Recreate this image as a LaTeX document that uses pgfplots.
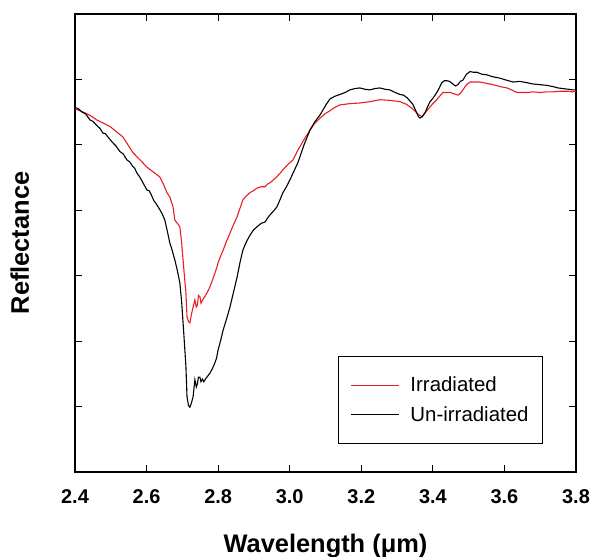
\documentclass[border=0pt]{standalone}
\usepackage{fontspec}
\setmainfont{Liberation Sans}
\usepackage{pgfplots}
\pgfplotsset{compat=1.18}
\definecolor{irrred}{RGB}{232,30,36}
\begin{document}
\begin{tikzpicture}
\begin{axis}[
    name=ax,
    scale only axis,
    width=501bp, height=458bp,
    line width=2bp,
    xmin=2.4, xmax=3.8, ymin=0, ymax=7,
    xtick={2.4,2.6,...,3.8},
    ytick={1,2,3,4,5,6},
    yticklabels={},
    tick align=inside,
    major tick length=7bp,
    tick style={line width=1bp, black},
    xticklabel style={font=\fontsize{20}{24}\selectfont\bfseries, yshift=-13bp},
    /pgf/number format/assume math mode=true,
    /pgf/number format/fixed, /pgf/number format/fixed zerofill, /pgf/number format/precision=1,
    xlabel={Wavelength (μm)},
    ylabel={Reflectance},
    xlabel style={font=\fontsize{25.5}{29}\selectfont\bfseries, yshift=-23bp},
    ylabel style={font=\fontsize{25.5}{29}\selectfont\bfseries, yshift=34bp},
    legend style={at={(0.934,0.061)}, anchor=south east, draw=black, line width=0.8bp,
        font=\fontsize{20.5}{24}\selectfont, inner xsep=12bp, inner ysep=19bp, row sep=9bp,
        column sep=9bp},
    legend cell align=left,
    legend image code/.code={\draw[#1, line width=1bp] (0bp,0bp) -- (48bp,0bp);},
]
\addplot[irrred, line width=1.1bp] coordinates {
(2.400,5.55) (2.414,5.52) (2.428,5.49) (2.445,5.44) (2.461,5.38) (2.480,5.33)
(2.498,5.28) (2.516,5.20) (2.534,5.12) (2.548,5.00) (2.562,4.88) (2.580,4.78)
(2.601,4.66) (2.620,4.58) (2.637,4.51) (2.647,4.40) (2.657,4.27) (2.665,4.20)
(2.670,4.12) (2.674,4.05) (2.679,3.85) (2.686,3.80) (2.693,3.75) (2.698,3.50)
(2.702,3.24) (2.706,2.98) (2.710,2.74) (2.713,2.37) (2.717,2.30) (2.721,2.28)
(2.725,2.40) (2.730,2.52) (2.735,2.63) (2.739,2.52) (2.742,2.55) (2.745,2.70)
(2.749,2.68) (2.752,2.58) (2.756,2.62) (2.760,2.66) (2.763,2.68) (2.770,2.75)
(2.777,2.83) (2.784,2.93) (2.791,3.04) (2.796,3.12) (2.800,3.20) (2.807,3.30)
(2.814,3.39) (2.823,3.52) (2.833,3.65) (2.843,3.78) (2.853,3.90) (2.861,4.03)
(2.869,4.16) (2.879,4.22) (2.889,4.27) (2.899,4.30) (2.909,4.34) (2.920,4.36)
(2.931,4.36) (2.938,4.40) (2.945,4.42) (2.955,4.47) (2.964,4.51) (2.972,4.56)
(2.981,4.62) (2.995,4.70) (3.009,4.77) (3.023,4.92) (3.040,5.08) (3.057,5.23)
(3.070,5.33) (3.085,5.41) (3.100,5.48) (3.112,5.52) (3.125,5.57) (3.140,5.61)
(3.168,5.63) (3.196,5.64) (3.224,5.66) (3.252,5.69) (3.280,5.68) (3.308,5.66)
(3.326,5.62) (3.344,5.55) (3.358,5.47) (3.370,5.43) (3.380,5.50) (3.392,5.58)
(3.400,5.63) (3.411,5.69) (3.420,5.75) (3.428,5.80) (3.438,5.80) (3.448,5.80)
(3.460,5.78) (3.470,5.76) (3.477,5.79) (3.484,5.84) (3.494,5.92) (3.504,5.96)
(3.518,5.96) (3.532,5.96) (3.550,5.94) (3.568,5.92) (3.588,5.89) (3.607,5.87)
(3.620,5.84) (3.635,5.80) (3.650,5.80) (3.663,5.80) (3.680,5.81) (3.699,5.80)
(3.717,5.81) (3.736,5.81) (3.755,5.82) (3.775,5.82) (3.790,5.81) (3.800,5.82)
};
\addlegendentry{Irradiated}
\addplot[black, line width=1.1bp] coordinates {
(2.400,5.57) (2.410,5.55) (2.420,5.50) (2.430,5.47) (2.442,5.38) (2.450,5.36)
(2.460,5.30) (2.470,5.25) (2.478,5.18) (2.485,5.17) (2.495,5.10) (2.506,5.03)
(2.515,4.98) (2.525,4.90) (2.535,4.86) (2.545,4.77) (2.553,4.74) (2.560,4.68)
(2.567,4.64) (2.573,4.57) (2.582,4.50) (2.590,4.42) (2.596,4.36) (2.601,4.31)
(2.607,4.30) (2.613,4.24) (2.620,4.15) (2.628,4.09) (2.637,4.01) (2.645,3.93)
(2.651,3.85) (2.658,3.68) (2.665,3.50) (2.672,3.38) (2.679,3.24) (2.686,3.08)
(2.693,2.89) (2.698,2.60) (2.702,2.28) (2.706,1.95) (2.710,1.61) (2.713,1.15)
(2.717,1.02) (2.721,0.99) (2.725,1.05) (2.730,1.15) (2.735,1.41) (2.739,1.30)
(2.742,1.35) (2.745,1.45) (2.749,1.45) (2.752,1.38) (2.756,1.42) (2.760,1.38)
(2.763,1.41) (2.770,1.46) (2.777,1.51) (2.784,1.58) (2.791,1.67) (2.796,1.75)
(2.800,1.87) (2.807,2.01) (2.814,2.17) (2.823,2.33) (2.833,2.52) (2.843,2.75)
(2.853,2.98) (2.861,3.20) (2.869,3.39) (2.879,3.52) (2.889,3.62) (2.899,3.70)
(2.909,3.75) (2.920,3.80) (2.931,3.82) (2.938,3.88) (2.945,3.93) (2.955,3.99)
(2.964,4.05) (2.972,4.15) (2.981,4.27) (2.991,4.36) (3.001,4.47) (3.012,4.60)
(3.023,4.73) (3.040,5.00) (3.057,5.23) (3.070,5.35) (3.085,5.46) (3.100,5.60)
(3.112,5.70) (3.125,5.74) (3.140,5.77) (3.155,5.80) (3.168,5.84) (3.182,5.86)
(3.196,5.87) (3.210,5.85) (3.224,5.84) (3.238,5.86) (3.252,5.87) (3.266,5.85)
(3.280,5.84) (3.295,5.80) (3.308,5.77) (3.318,5.76) (3.328,5.72) (3.336,5.67)
(3.344,5.62) (3.354,5.50) (3.360,5.43) (3.364,5.41) (3.370,5.43) (3.378,5.49)
(3.385,5.58) (3.392,5.66) (3.400,5.71) (3.411,5.80) (3.418,5.87) (3.425,5.95)
(3.432,5.98) (3.439,5.98) (3.447,5.97) (3.456,5.93) (3.463,5.90) (3.470,5.92)
(3.477,5.97) (3.484,5.99) (3.494,6.08) (3.504,6.12) (3.513,6.11) (3.523,6.11)
(3.537,6.08) (3.551,6.07) (3.568,6.04) (3.587,6.02) (3.605,5.99) (3.624,5.96)
(3.643,5.97) (3.663,5.95) (3.680,5.93) (3.699,5.92) (3.717,5.91) (3.736,5.89)
(3.750,5.87) (3.763,5.86) (3.778,5.85) (3.791,5.84) (3.800,5.84)
};
\addlegendentry{Un-irradiated}
\end{axis}
\pgfresetboundingbox
\path ([xshift=-75bp,yshift=-85bp]ax.south west) rectangle ([xshift=15bp,yshift=14bp]ax.north east);
\end{tikzpicture}
\end{document}
